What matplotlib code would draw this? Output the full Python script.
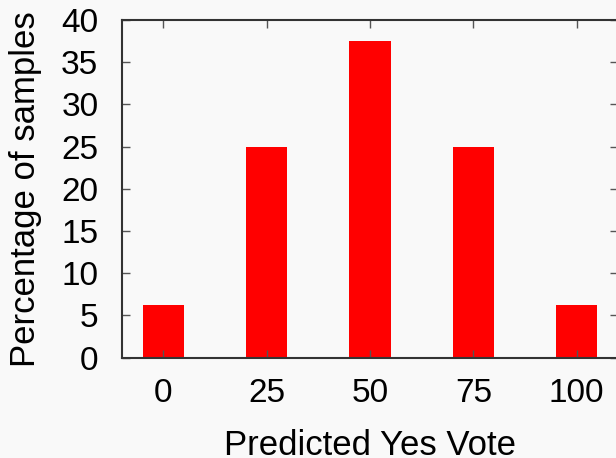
import matplotlib.pyplot as plt

plt.rcParams['font.family'] = ['Liberation Sans', 'DejaVu Sans']

votes = [0, 25, 50, 75, 100]
percent = [6.25, 25, 37.5, 25, 6.25]
tick_y = [0, 5, 10, 15, 20, 25, 30, 35, 40]

fig = plt.figure(figsize=(6.16, 4.58), dpi=100, facecolor='#f9f9f9')
ax = fig.add_axes([122/616, 1 - 357.5/458, 496/616, 337.5/458])
ax.set_facecolor('#f9f9f9')

ax.bar(votes, percent, width=10, color='#ff0000', edgecolor='none')

ax.set_xlim(-10, 110)
ax.set_ylim(0, 40)
ax.set_xticks(votes)
ax.set_yticks(tick_y)
ax.tick_params(direction='in', length=6, width=1, color='#555555',
               top=True, right=True, labelsize=24, pad=15)
ax.tick_params(axis='y', pad=17)
for s in ax.spines.values():
    s.set_color('#333333')
    s.set_linewidth(1.5)

ax.set_xlabel('Predicted Yes Vote', fontsize=25, labelpad=14)
ax.set_ylabel('Percentage of samples', fontsize=25, labelpad=14)

fig.savefig('out.png', dpi=100, facecolor=fig.get_facecolor())
